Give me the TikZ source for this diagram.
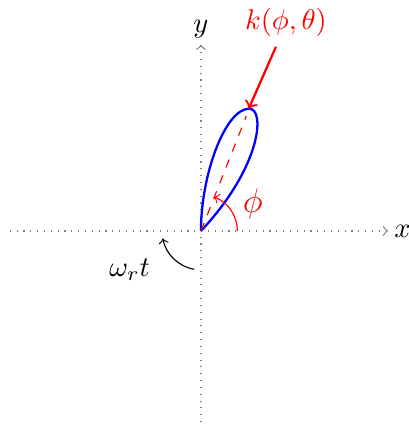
\documentclass[tikz,border=0pt]{standalone}
\begin{document}
\begin{tikzpicture}[
  axis/.style={gray, dotted, ->},
  lobe/.style={blue, thick},
  wave/.style={red, thick, ->},
  redlbl/.style={red},
]
\useasboundingbox (-2.481,-2.383) rectangle (2.568,2.852);
\coordinate (O) at (0,0);
\coordinate (xl) at (-2.36,0);
\coordinate (xr) at (2.31,0);
\coordinate (yb) at (0,-2.36);
\coordinate (yt) at (0,2.30);
\draw[axis] (xl) -- (xr) node[right, black, inner sep=2pt] (xlab) {$x$};
\draw[axis] (yb) -- (yt) node[above, black, inner sep=2pt] (ylab) {$y$};
\coordinate (tip) at (0.59,1.51);
\draw[lobe] (O) .. controls (0,0.7) and (0.3,1.5) .. (tip)
  .. controls (0.8,1.52) and (0.75,0.8) .. (O);
\coordinate (dend) at (0.56,1.42);
\draw[red, dashed] (O) -- (dend);
\coordinate (kstart) at (0.926,2.275);
\draw[wave] (kstart) -- (tip);
\node[redlbl] (klab) at (1.05,2.58) {$k(\phi,\theta)$};
\draw[red, ->] (0.45,0) arc[start angle=0, end angle=69, radius=0.45];
\node[redlbl, font=\large] (phil) at (0.64,0.33) {$\phi$};
\draw[black, ->] (260:0.48) arc[start angle=260, end angle=191, radius=0.48];
\node (wlab) at (-0.88,-0.48) {$\omega_r t$};
\end{tikzpicture}
\end{document}
